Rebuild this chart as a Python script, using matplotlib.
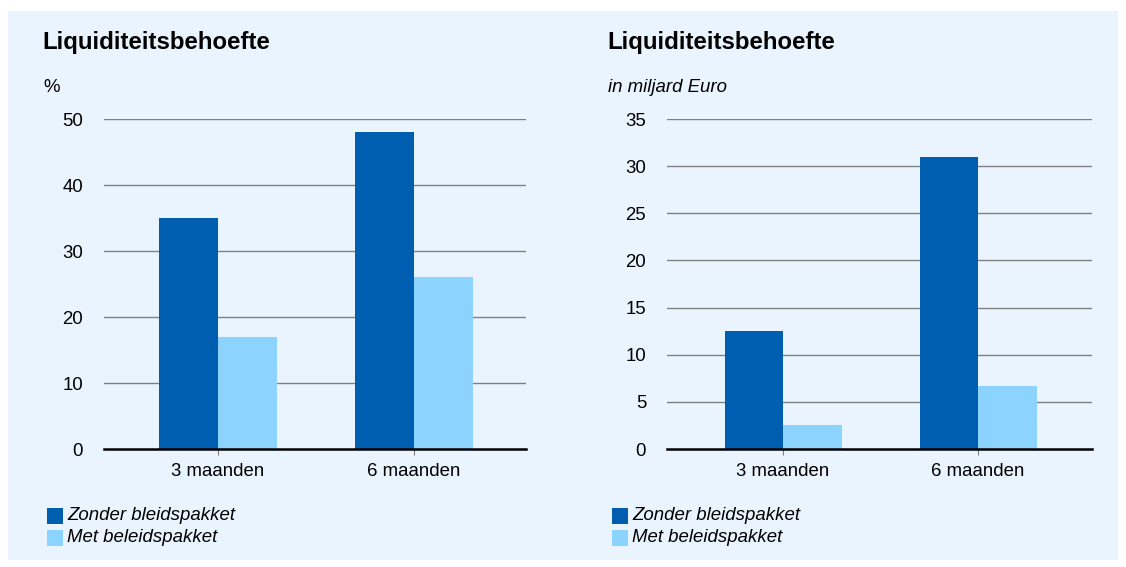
import matplotlib
matplotlib.use("Agg")
import matplotlib.pyplot as plt
from matplotlib.patches import Rectangle
import numpy as np

plt.rcParams['font.family'] = ['Liberation Sans', 'DejaVu Sans']

categories = ["3 maanden", "6 maanden"]
series_names = ["Zonder bleidspakket", "Met beleidspakket"]
left_zonder = [35, 48]
left_met = [17, 26]
right_zonder = [12.5, 31]
right_met = [2.5, 6.7]
left_ticks = [0, 10, 20, 30, 40, 50]
right_ticks = [0, 5, 10, 15, 20, 25, 30, 35]
title = "Liquiditeitsbehoefte"
left_unit = "%"
right_unit = "in miljard Euro"

DARK = "#005EB0"
LIGHT = "#8CD3FF"
BG = "#EAF4FE"
GRID = "#7f7f7f"
FS = 13.4

W, H = 1126, 567
fig = plt.figure(figsize=(W/100, H/100), dpi=100)
fig.patch.set_facecolor("white")
fig.patches.append(Rectangle((8/W, 1-560/H), (1118-8)/W, (560-11)/H,
                             transform=fig.transFigure, facecolor=BG, edgecolor="none", zorder=-10))

def make(ax_px, xlim, zonder, met, ticks, unit, unit_italic, title_x):
    x0, x1, y0, y1 = ax_px
    ax = fig.add_axes([x0/W, 1-y1/H, (x1-x0)/W, (y1-y0)/H])
    ax.set_facecolor("none")
    x = np.arange(len(categories))
    w = 0.30
    ax.bar(x - w/2, zonder, w, color=DARK, zorder=3)
    ax.bar(x + w/2, met, w, color=LIGHT, zorder=3)
    ax.set_xlim(*xlim)
    ax.set_ylim(0, ticks[-1])
    ax.set_yticks(ticks)
    ax.set_yticklabels([str(t) for t in ticks], fontsize=FS)
    ax.set_xticks(x)
    ax.set_xticklabels(categories, fontsize=FS)
    ax.tick_params(axis='y', length=0, pad=15)
    ax.tick_params(axis='x', length=4, width=0.8, color=GRID, pad=6)
    for t in ticks[1:]:
        ax.axhline(t, color=GRID, lw=1.0, zorder=1)
    for s in ["top", "right", "left"]:
        ax.spines[s].set_visible(False)
    ax.spines["bottom"].set_linewidth(1.8)
    ax.spines["bottom"].set_zorder(4)
    ax.spines["bottom"].set_color("black")
    fig.text(title_x/W, 1-43/H, title, fontsize=17.3, fontweight="bold", va="center", ha="left")
    fig.text((title_x+1)/W, 1-88/H, unit, fontsize=FS, style="italic" if unit_italic else "normal",
             va="center", ha="left")
    for i, (name, col) in enumerate(zip(series_names, [DARK, LIGHT])):
        yc = 516 + i*22
        fig.patches.append(Rectangle(((title_x+5)/W, 1-(yc+8)/H), 16/W, 16/H,
                                     transform=fig.transFigure, facecolor=col, edgecolor="none"))
        fig.text((title_x+25)/W, 1-yc/H, name, fontsize=FS, style="italic", va="center", ha="left")
    return ax

make((104, 526, 119, 449), (-0.582, 1.571), left_zonder, left_met, left_ticks, left_unit, False, 42)
make((667, 1092, 119, 449), (-0.595, 1.584), right_zonder, right_met, right_ticks, right_unit, True, 607)

fig.savefig("out.png", dpi=100)
